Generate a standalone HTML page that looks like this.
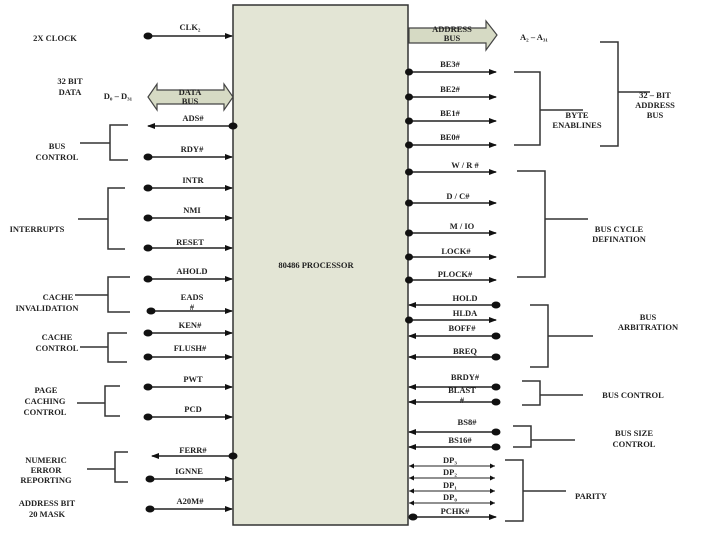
<!DOCTYPE html>
<html><head><meta charset="utf-8"><style>
html,body{margin:0;padding:0;background:#fff;}
svg{display:block}
text{font-family:"Liberation Serif",serif;font-weight:bold;font-size:8.5px;fill:#222;text-anchor:middle}
</style></head><body>
<svg width="720" height="540" viewBox="0 0 720 540" xmlns="http://www.w3.org/2000/svg">
<defs>
<marker id="ar" markerWidth="8" markerHeight="8" refX="7" refY="4" orient="auto" markerUnits="userSpaceOnUse"><path d="M0,1 L8,4 L0,7z" fill="#111"/></marker>
</defs>
<rect x="233" y="5" width="175" height="520" fill="#e3e5d5" stroke="#333" stroke-width="1.5"/>
<text x="316" y="268">80486 PROCESSOR</text>

<g stroke="#222" stroke-width="1.5" fill="none">
<!-- left inputs -->
<line x1="147" y1="36" x2="232" y2="36" marker-end="url(#ar)"/>
<line x1="147" y1="157" x2="232" y2="157" marker-end="url(#ar)"/>
<line x1="147" y1="188" x2="232" y2="188" marker-end="url(#ar)"/>
<line x1="147" y1="218" x2="232" y2="218" marker-end="url(#ar)"/>
<line x1="147" y1="248" x2="232" y2="248" marker-end="url(#ar)"/>
<line x1="147" y1="279" x2="232" y2="279" marker-end="url(#ar)"/>
<line x1="150" y1="311" x2="232" y2="311" marker-end="url(#ar)"/>
<line x1="147" y1="333" x2="232" y2="333" marker-end="url(#ar)"/>
<line x1="147" y1="357" x2="232" y2="357" marker-end="url(#ar)"/>
<line x1="147" y1="387" x2="232" y2="387" marker-end="url(#ar)"/>
<line x1="147" y1="417" x2="232" y2="417" marker-end="url(#ar)"/>
<line x1="150" y1="479" x2="232" y2="479" marker-end="url(#ar)"/>
<line x1="150" y1="509" x2="232" y2="509" marker-end="url(#ar)"/>
<!-- left outputs -->
<line x1="233" y1="126" x2="148" y2="126" marker-end="url(#ar)"/>
<line x1="233" y1="456" x2="152" y2="456" marker-end="url(#ar)"/>
<!-- right outputs -->
<line x1="409" y1="72" x2="496" y2="72" marker-end="url(#ar)"/>
<line x1="409" y1="97" x2="496" y2="97" marker-end="url(#ar)"/>
<line x1="409" y1="121" x2="496" y2="121" marker-end="url(#ar)"/>
<line x1="409" y1="145" x2="496" y2="145" marker-end="url(#ar)"/>
<line x1="409" y1="172" x2="496" y2="172" marker-end="url(#ar)"/>
<line x1="409" y1="203" x2="496" y2="203" marker-end="url(#ar)"/>
<line x1="409" y1="233" x2="496" y2="233" marker-end="url(#ar)"/>
<line x1="409" y1="257" x2="496" y2="257" marker-end="url(#ar)"/>
<line x1="409" y1="280" x2="496" y2="280" marker-end="url(#ar)"/>
<line x1="409" y1="320" x2="496" y2="320" marker-end="url(#ar)"/>
<line x1="413" y1="517" x2="496" y2="517" marker-end="url(#ar)"/>
<!-- right inputs -->
<line x1="496" y1="305" x2="409" y2="305" marker-end="url(#ar)"/>
<line x1="496" y1="336" x2="409" y2="336" marker-end="url(#ar)"/>
<line x1="496" y1="357" x2="409" y2="357" marker-end="url(#ar)"/>
<line x1="496" y1="387" x2="409" y2="387" marker-end="url(#ar)"/>
<line x1="496" y1="402" x2="409" y2="402" marker-end="url(#ar)"/>
<line x1="496" y1="432" x2="409" y2="432" marker-end="url(#ar)"/>
<line x1="496" y1="447" x2="409" y2="447" marker-end="url(#ar)"/>
</g>
<g stroke="#222" stroke-width="1">
<line x1="409" y1="466" x2="495" y2="466"/><line x1="409" y1="478" x2="495" y2="478"/>
<line x1="409" y1="491" x2="495" y2="491"/><line x1="409" y1="503" x2="495" y2="503"/>
</g>
<g fill="#111">
<path d="M409,466 l5,-2.5 v5z M495,466 l-5,-2.5 v5z M409,478 l5,-2.5 v5z M495,478 l-5,-2.5 v5z M409,491 l5,-2.5 v5z M495,491 l-5,-2.5 v5z M409,503 l5,-2.5 v5z M495,503 l-5,-2.5 v5z"/>
<!-- dots -->
<ellipse cx="148" cy="36" rx="4.5" ry="3.5"/><ellipse cx="233" cy="126" rx="4.5" ry="3.5"/>
<ellipse cx="148" cy="157" rx="4.5" ry="3.5"/><ellipse cx="148" cy="188" rx="4.5" ry="3.5"/>
<ellipse cx="148" cy="218" rx="4.5" ry="3.5"/><ellipse cx="148" cy="248" rx="4.5" ry="3.5"/>
<ellipse cx="148" cy="279" rx="4.5" ry="3.5"/><ellipse cx="151" cy="311" rx="4.5" ry="3.5"/>
<ellipse cx="148" cy="333" rx="4.5" ry="3.5"/><ellipse cx="148" cy="357" rx="4.5" ry="3.5"/>
<ellipse cx="148" cy="387" rx="4.5" ry="3.5"/><ellipse cx="148" cy="417" rx="4.5" ry="3.5"/>
<ellipse cx="233" cy="456" rx="4.5" ry="3.5"/><ellipse cx="150" cy="479" rx="4.5" ry="3.5"/>
<ellipse cx="150" cy="509" rx="4.5" ry="3.5"/>
<ellipse cx="409" cy="72" rx="4" ry="3.5"/><ellipse cx="409" cy="97" rx="4" ry="3.5"/>
<ellipse cx="409" cy="121" rx="4" ry="3.5"/><ellipse cx="409" cy="145" rx="4" ry="3.5"/>
<ellipse cx="409" cy="172" rx="4" ry="3.5"/><ellipse cx="409" cy="203" rx="4" ry="3.5"/>
<ellipse cx="409" cy="233" rx="4" ry="3.5"/><ellipse cx="409" cy="257" rx="4" ry="3.5"/>
<ellipse cx="409" cy="280" rx="4" ry="3.5"/><ellipse cx="409" cy="320" rx="4" ry="3.5"/>
<ellipse cx="413" cy="517" rx="4.5" ry="3.5"/>
<ellipse cx="496" cy="305" rx="4.5" ry="3.5"/><ellipse cx="496" cy="336" rx="4.5" ry="3.5"/>
<ellipse cx="496" cy="357" rx="4.5" ry="3.5"/><ellipse cx="496" cy="387" rx="4.5" ry="3.5"/>
<ellipse cx="496" cy="402" rx="4.5" ry="3.5"/><ellipse cx="496" cy="432" rx="4.5" ry="3.5"/>
<ellipse cx="496" cy="447" rx="4.5" ry="3.5"/>
</g>
<!-- bus arrows -->
<path d="M148,97 L157,84 V90 H224 V84 L233,97 L224,110 V104 H157 V110 Z" fill="#d6dac4" stroke="#444" stroke-width="1.2"/>
<path d="M409,28 H486 V21 L497,35 L486,50 V43 H409 Z" fill="#d6dac4" stroke="#444" stroke-width="1.2"/>
<text x="190" y="95">DATA</text><text x="190" y="104">BUS</text>
<text x="452" y="32">ADDRESS</text><text x="452" y="41">BUS</text>

<!-- brackets -->
<g stroke="#333" stroke-width="1.5" fill="none">
<path d="M128,125 H110 V160 H128 M110,143 H80"/>
<path d="M125,188 H108 V249 H125 M108,219 H78"/>
<path d="M130,277 H108 V312 H130 M108,295 H75"/>
<path d="M127,333 H108 V362 H127 M108,347 H80"/>
<path d="M120,386 H105 V416 H120 M105,403 H77"/>
<path d="M128,452 H115 V482 H128 M115,469 H87"/>
<path d="M514,72 H540 V145 H514 M540,110 H583"/>
<path d="M600,42 H618 V146 H600 M618,92 H650"/>
<path d="M517,171 H545 V277 H517 M545,219 H588"/>
<path d="M530,305 H548 V367 H530 M548,336 H593"/>
<path d="M522,381 H540 V405 H522 M540,395 H583"/>
<path d="M513,426 H531 V447 H513 M531,440 H575"/>
<path d="M505,460 H523 V521 H505 M523,491 H566"/>
</g>

<!-- signal labels -->
<text x="190" y="30">CLK₂</text>
<text x="193" y="121">ADS#</text>
<text x="192" y="152">RDY#</text>
<text x="193" y="183">INTR</text>
<text x="192" y="213">NMI</text>
<text x="190" y="245">RESET</text>
<text x="192" y="274">AHOLD</text>
<text x="192" y="300">EADS</text><text x="192" y="310">#</text>
<text x="190" y="328">KEN#</text>
<text x="190" y="351">FLUSH#</text>
<text x="193" y="382">PWT</text>
<text x="193" y="412">PCD</text>
<text x="193" y="453">FERR#</text>
<text x="189" y="474">IGNNE</text>
<text x="190" y="504">A20M#</text>

<text x="450" y="67">BE3#</text>
<text x="450" y="92">BE2#</text>
<text x="450" y="116">BE1#</text>
<text x="450" y="140">BE0#</text>
<text x="465" y="168">W / R #</text>
<text x="458" y="199">D / C#</text>
<text x="462" y="229">M / IO</text>
<text x="456" y="254">LOCK#</text>
<text x="455" y="277">PLOCK#</text>
<text x="465" y="301">HOLD</text>
<text x="465" y="316">HLDA</text>
<text x="462" y="331">BOFF#</text>
<text x="465" y="354">BREQ</text>
<text x="465" y="380">BRDY#</text>
<text x="462" y="393">BLAST</text><text x="462" y="403">#</text>
<text x="467" y="425">BS8#</text>
<text x="460" y="443">BS16#</text>
<text x="450" y="463">DP₃</text>
<text x="450" y="475">DP₂</text>
<text x="450" y="488">DP₁</text>
<text x="450" y="500">DP₀</text>
<text x="455" y="514">PCHK#</text>

<!-- group labels -->
<text x="55" y="41">2X CLOCK</text>
<text x="70" y="84">32 BIT</text><text x="70" y="95">DATA</text>
<text x="118" y="99">D₀ – D₃₁</text>
<text x="57" y="149">BUS</text><text x="57" y="160">CONTROL</text>
<text x="37" y="232">INTERRUPTS</text>
<text x="58" y="300">CACHE</text><text x="47" y="311">INVALIDATION</text>
<text x="57" y="340">CACHE</text><text x="57" y="351">CONTROL</text>
<text x="46" y="393">PAGE</text><text x="45" y="404">CACHING</text><text x="45" y="415">CONTROL</text>
<text x="46" y="463">NUMERIC</text><text x="46" y="473">ERROR</text><text x="46" y="483">REPORTING</text>
<text x="47" y="506">ADDRESS BIT</text><text x="47" y="517">20 MASK</text>
<text x="534" y="40">A₂ – A₃₁</text>
<text x="577" y="118">BYTE</text><text x="577" y="128">ENABLINES</text>
<text x="655" y="98">32 – BIT</text><text x="655" y="108">ADDRESS</text><text x="655" y="118">BUS</text>
<text x="619" y="232">BUS CYCLE</text><text x="619" y="242">DEFINATION</text>
<text x="648" y="320">BUS</text><text x="648" y="330">ARBITRATION</text>
<text x="633" y="398">BUS CONTROL</text>
<text x="634" y="436">BUS SIZE</text><text x="634" y="447">CONTROL</text>
<text x="591" y="499">PARITY</text>
</svg>
</body></html>
